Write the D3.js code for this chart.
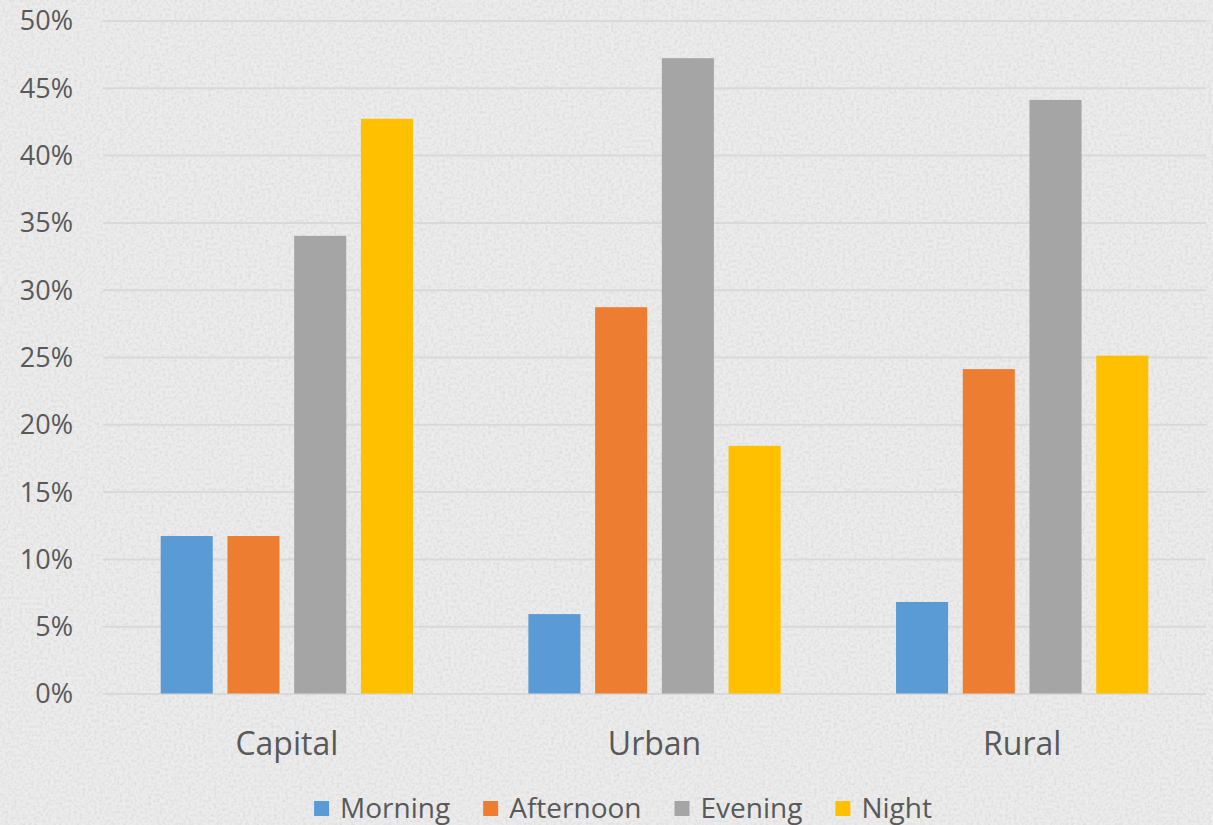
<!DOCTYPE html>
<html>
<head>
<meta charset="utf-8">
<script src="https://cdn.jsdelivr.net/npm/d3@7"></script>
<style>
  body { margin: 0; background: #ebebeb; }
  svg text { font-family: "Open Sans", "Noto Sans", sans-serif; fill: #595959; }
</style>
</head>
<body>
<div id="chart"></div>
<script>
var svgWidth = 1213;
var svgHeight = 825;
var margin = ({top: 20.5, right: 7, bottom: 131.5, left: 103});

// data
var categories = ["Capital", "Urban", "Rural"];
var series = ["Morning", "Afternoon", "Evening", "Night"];
var morning   = [0.117, 0.059, 0.068];
var afternoon = [0.117, 0.287, 0.241];
var evening   = [0.340, 0.472, 0.441];
var night     = [0.427, 0.184, 0.251];
var yTicks = [0, 0.05, 0.1, 0.15, 0.2, 0.25, 0.3, 0.35, 0.4, 0.45, 0.5];
var colors = ["#5b9bd5", "#ed7d31", "#a5a5a5", "#ffc000"];

var values = [morning, afternoon, evening, night];
var data = categories.map((c, i) => ({name: c, vals: series.map((s, j) => ({key: s, value: values[j][i], idx: j}))}));

var svg = d3.select("#chart").append("svg")
    .attr("width", svgWidth)
    .attr("height", svgHeight);

// textured background
var defs = svg.append("defs");
var noise = defs.append("filter").attr("id", "noise")
    .attr("x", 0).attr("y", 0).attr("width", "100%").attr("height", "100%");
noise.append("feTurbulence").attr("type", "fractalNoise").attr("baseFrequency", "0.35")
    .attr("numOctaves", 2).attr("seed", 7).attr("result", "t");
noise.append("feColorMatrix").attr("type", "matrix")
    .attr("values", "0 0 0 0 0.55  0 0 0 0 0.55  0 0 0 0 0.55  0 0 0 -2.2 1.35");
svg.append("rect").attr("width", svgWidth).attr("height", svgHeight).attr("fill", "#ececec");
svg.append("rect").attr("width", svgWidth).attr("height", svgHeight)
    .attr("filter", "url(#noise)").attr("opacity", 0.35);

var x0 = d3.scaleBand()
    .domain(categories)
    .range([margin.left, svgWidth - margin.right]);
var x1 = d3.scaleBand()
    .domain(series)
    .range([57.7, x0.bandwidth() - 57.7])
    .paddingInner(0.22);
var y = d3.scaleLinear()
    .domain([0, 0.5])
    .range([svgHeight - margin.bottom, margin.top]);

// gridlines
var grid = svg.append("g")
    .attr("transform", "translate(" + margin.left + ",0)")
    .call(d3.axisLeft(y)
        .tickValues(yTicks)
        .tickSize(-(svgWidth - margin.left - margin.right))
        .tickFormat(""));
grid.select(".domain").remove();
grid.selectAll("line").attr("stroke", "#d9d9d9").attr("stroke-width", 2);

// y labels
var yaxis = svg.append("g")
    .attr("transform", "translate(73,0)")
    .call(d3.axisLeft(y).tickValues(yTicks).tickSize(0).tickFormat(d3.format(".0%")));
yaxis.select(".domain").remove();
yaxis.selectAll("text")
    .style("font-size", "27px")
    .attr("x", 0)
    .attr("dy", "0.35em")
    .style("text-anchor", "end");

// bars
var groups = svg.selectAll(".grp")
    .data(data)
    .enter().append("g")
    .attr("class", "grp")
    .attr("transform", d => "translate(" + x0(d.name) + ",0)");
groups.selectAll("rect")
    .data(d => d.vals)
    .enter().append("rect")
    .attr("x", d => x1(d.key))
    .attr("y", d => y(d.value))
    .attr("width", x1.bandwidth())
    .attr("height", d => y(0) - y(d.value))
    .attr("fill", d => colors[d.idx]);

// category labels
var xaxis = svg.append("g")
    .attr("transform", "translate(0," + y(0) + ")")
    .call(d3.axisBottom(x0).tickSize(0));
xaxis.select(".domain").remove();
xaxis.selectAll("text")
    .style("font-size", "32px")
    .attr("y", 0)
    .attr("dy", "1.93em");

// legend
var legend = svg.append("g").attr("class", "legend");
var lx = 0;
series.forEach(function (s, i) {
    var item = legend.append("g").attr("transform", "translate(" + lx + ",0)");
    item.append("rect")
        .attr("x", 0).attr("y", -14)
        .attr("width", 15).attr("height", 15)
        .attr("fill", colors[i]);
    var t = item.append("text")
        .attr("x", 26).attr("y", 0)
        .attr("dy", "0.1em")
        .style("font-size", "28px")
        .text(s);
    lx += 26 + t.node().getComputedTextLength() + 33;
});
lx -= 33;
legend.attr("transform", "translate(" + (623 - lx / 2) + ",815)");
</script>
</body>
</html>
